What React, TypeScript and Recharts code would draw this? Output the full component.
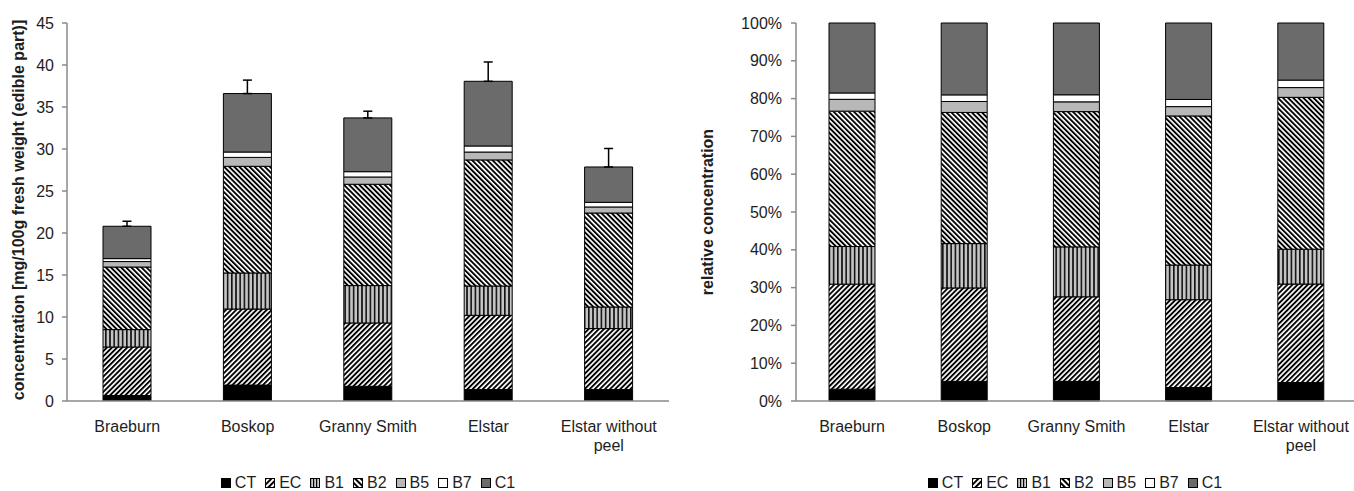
import React from 'react';
import { BarChart, Bar, XAxis, YAxis, ErrorBar, Label } from 'recharts';

// ---------- data ----------
const categories = ['Braeburn', 'Boskop', 'Granny Smith', 'Elstar', 'Elstar without peel'];
const seriesNames = ['CT', 'EC', 'B1', 'B2', 'B5', 'B7', 'C1'];
const CT = [0.65, 1.9, 1.75, 1.36, 1.36];
const EC = [5.78, 9.05, 7.54, 8.84, 7.26];
const B1 = [2.07, 4.29, 4.45, 3.49, 2.57];
const B2 = [7.45, 12.7, 12.06, 15.01, 11.19];
const B5 = [0.65, 1.06, 0.87, 0.94, 0.72];
const B7 = [0.35, 0.64, 0.63, 0.72, 0.55];
const C1 = [3.85, 6.96, 6.4, 7.7, 4.21];
const errorUp = [0.6, 1.6, 0.8, 2.3, 2.2];
const yTicksAbs = [0, 5, 10, 15, 20, 25, 30, 35, 40, 45];
const yTicksRel = [0, 0.1, 0.2, 0.3, 0.4, 0.5, 0.6, 0.7, 0.8, 0.9, 1];
const leftTitle = 'concentration [mg/100g fresh weight (edible part)]';
const rightTitle = 'relative concentration';

const seriesValues = [CT, EC, B1, B2, B5, B7, C1];
const fills = ['#000000', 'url(#patEC)', 'url(#patB1)', 'url(#patB2)', '#b8b8b8', '#ffffff', '#6b6b6b'];
const legendFills = ['#000000', 'url(#lgEC)', 'url(#lgB1)', 'url(#lgB2)', '#b8b8b8', '#ffffff', '#6b6b6b'];

const data = categories.map((name, i) => {
  const row: any = { name, err: [0, errorUp[i]] };
  seriesNames.forEach((s, k) => { row[s] = seriesValues[k][i]; });
  return row;
});

const FONT = "'Liberation Sans', Arial, Helvetica, sans-serif";
const TEXT = '#1e1e1e';
const AXIS = '#8a8a8a';

function wrapLabel(s: string, max = 14): string[] {
  const words = s.split(' ');
  const lines: string[] = [];
  let cur = '';
  for (const w of words) {
    const next = cur ? cur + ' ' + w : w;
    if (next.length > max && cur) { lines.push(cur); cur = w; } else cur = next;
  }
  if (cur) lines.push(cur);
  return lines;
}

const XTick = (props: any) => {
  const { x, y, payload } = props;
  const lines = wrapLabel(String(payload.value));
  return (
    <text x={x} y={y} textAnchor="middle" fill={TEXT} fontSize={16} fontFamily={FONT}>
      {lines.map((l, i) => (
        <tspan key={i} x={x} dy={i === 0 ? 31 : 19}>{l}</tspan>
      ))}
    </text>
  );
};

const Patterns = () => (
  <svg width={0} height={0} style={{ position: 'absolute' }}>
    <defs>
      <pattern id="patEC" patternUnits="userSpaceOnUse" width={3.6} height={3.6} patternTransform="rotate(45)">
        <rect width={3.6} height={3.6} fill="#fff" />
        <rect width={1.9} height={3.6} fill="#000" />
      </pattern>
      <pattern id="patB2" patternUnits="userSpaceOnUse" width={3.6} height={3.6} patternTransform="rotate(-45)">
        <rect width={3.6} height={3.6} fill="#fff" />
        <rect width={1.9} height={3.6} fill="#000" />
      </pattern>
      <pattern id="patB1" patternUnits="userSpaceOnUse" width={4.2} height={4.2}>
        <rect width={4.2} height={4.2} fill="#c4c4c4" />
        <rect width={1.6} height={4.2} fill="#111" />
      </pattern>
      <pattern id="lgEC" patternUnits="userSpaceOnUse" width={4} height={4} patternTransform="rotate(45)">
        <rect width={4} height={4} fill="#fff" />
        <rect width={2} height={4} fill="#000" />
      </pattern>
      <pattern id="lgB2" patternUnits="userSpaceOnUse" width={4} height={4} patternTransform="rotate(-45)">
        <rect width={4} height={4} fill="#fff" />
        <rect width={2} height={4} fill="#000" />
      </pattern>
      <pattern id="lgB1" patternUnits="userSpaceOnUse" width={3} height={3}>
        <rect width={3} height={3} fill="#ccc" />
        <rect width={1.2} height={3} fill="#000" />
      </pattern>
    </defs>
  </svg>
);

const LegendRow = ({ left, width }: { left: number; width: number }) => (
  <div
    style={{
      position: 'absolute', left, top: 474, width, display: 'flex', justifyContent: 'center',
      alignItems: 'center', fontSize: 16, lineHeight: '18px', color: TEXT, fontFamily: FONT,
    }}
  >
    {seriesNames.map((n, i) => (
      <span key={n} style={{ display: 'inline-flex', alignItems: 'center', marginRight: i < seriesNames.length - 1 ? 9 : 0 }}>
        <svg width={10} height={10} style={{ marginRight: 4 }}>
          <rect x={0.5} y={0.5} width={9} height={9} fill={legendFills[i]} stroke="#000" strokeWidth={1} />
        </svg>
        {n}
      </span>
    ))}
  </div>
);

const YTitle = (cx: number, cy: number, text: string) => () => (
  <text
    x={cx}
    y={cy}
    transform={`rotate(-90 ${cx} ${cy})`}
    textAnchor="middle"
    dominantBaseline="central"
    fontWeight="bold"
    fontSize={16}
    fill={TEXT}
    fontFamily={FONT}
  >
    {text}
  </text>
);

export default function App() {
  return (
    <div style={{ position: 'absolute', left: 0, top: 0, width: 1354, height: 491, overflow: 'hidden', background: '#fff', fontFamily: FONT }}>
      <Patterns />
      <div style={{ position: 'absolute', left: 0, top: 0 }}>
        <BarChart width={680} height={491} data={data} margin={{ top: 23, right: 11, left: 0, bottom: 0 }}>
          <XAxis
            dataKey="name"
            height={90}
            tickLine={false}
            tickSize={0}
            tickMargin={0}
            axisLine={{ stroke: AXIS, strokeWidth: 1.5 }}
            tick={<XTick />}
            interval={0}
          />
          <YAxis
            width={67}
            domain={[0, 45]}
            ticks={yTicksAbs}
            interval={0}
            tickSize={5}
            tickMargin={8}
            axisLine={{ stroke: AXIS, strokeWidth: 1.5 }}
            tickLine={{ stroke: AXIS, strokeWidth: 1.5 }}
            tick={{ fill: TEXT, fontSize: 16, fontFamily: FONT }}
            allowDataOverflow
          >
            <Label content={YTitle(18.5, 210, leftTitle)} />
          </YAxis>
          {seriesNames.map((s, k) => (
            <Bar key={s} dataKey={s} stackId="a" fill={fills[k]} stroke="#000" strokeWidth={1} barSize={48} isAnimationActive={false}>
              {s === 'C1' ? (
                <ErrorBar dataKey="err" direction="y" width={4.5} stroke="#000" strokeWidth={1.5} />
              ) : null}
            </Bar>
          ))}
        </BarChart>
      </div>
      <LegendRow left={67} width={602} />

      <div style={{ position: 'absolute', left: 690, top: 0 }}>
        <BarChart width={667} height={491} data={data} stackOffset="expand" margin={{ top: 23, right: 0, left: 0, bottom: 0 }}>
          <XAxis
            dataKey="name"
            height={90}
            tickLine={false}
            tickSize={0}
            tickMargin={0}
            axisLine={{ stroke: AXIS, strokeWidth: 1.5 }}
            tick={<XTick />}
            interval={0}
          />
          <YAxis
            width={106}
            domain={[0, 1]}
            ticks={yTicksRel}
            interval={0}
            tickSize={5}
            tickMargin={9}
            tickFormatter={(v: number) => `${Math.round(v * 100)}%`}
            axisLine={{ stroke: AXIS, strokeWidth: 1.5 }}
            tickLine={{ stroke: AXIS, strokeWidth: 1.5 }}
            tick={{ fill: TEXT, fontSize: 16, fontFamily: FONT }}
          >
            <Label content={YTitle(17, 212, rightTitle)} />
          </YAxis>
          {seriesNames.map((s, k) => (
            <Bar key={s} dataKey={s} stackId="a" fill={fills[k]} stroke="#000" strokeWidth={1} barSize={46} isAnimationActive={false} />
          ))}
        </BarChart>
      </div>
      <LegendRow left={796} width={558} />
    </div>
  );
}
